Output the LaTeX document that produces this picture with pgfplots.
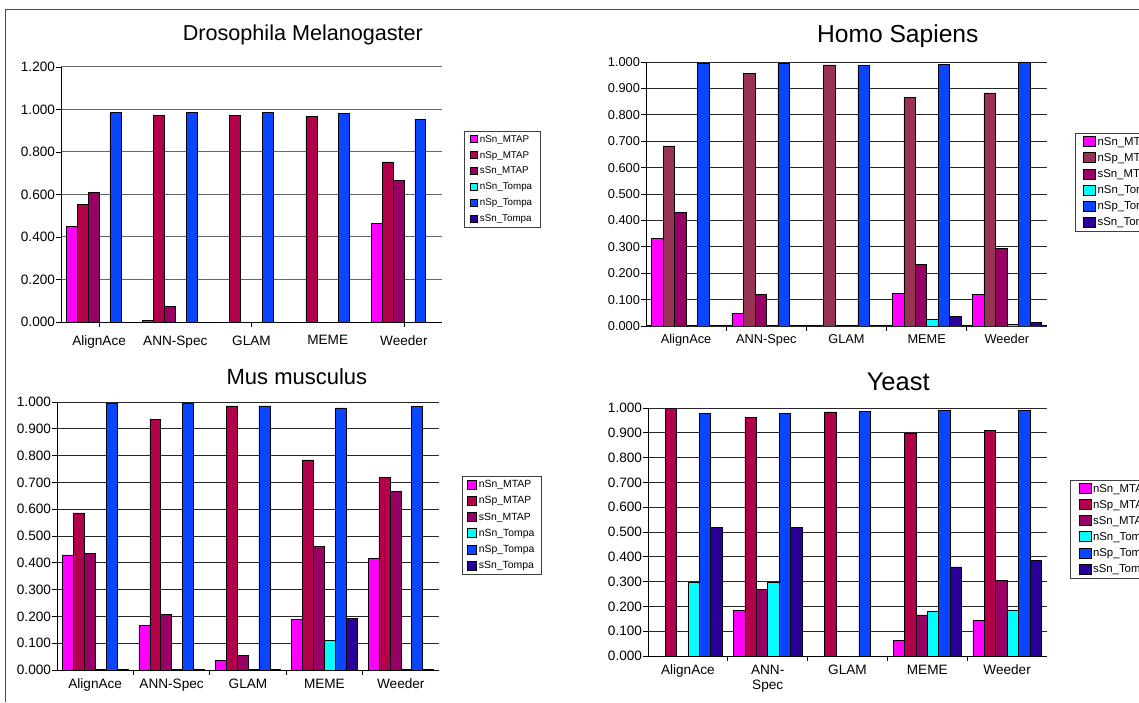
\documentclass[border=0pt]{standalone}
\usepackage{fontspec}
\setmainfont{Liberation Sans}
\usepackage{pgfplots}
\usepackage{pgfplotstable}
\pgfplotsset{compat=1.18}

\definecolor{cnSnM}{HTML}{FF00FF}
\definecolor{cnSpM}{HTML}{B3004B}
\definecolor{cnSpMh}{HTML}{993355}
\definecolor{csSnM}{HTML}{990066}
\definecolor{cnSnT}{HTML}{00FFFF}
\definecolor{cnSpT}{HTML}{0A46FF}
\definecolor{csSnT}{HTML}{2B0099}

% columns: nSn_MTAP nSp_MTAP sSn_MTAP nSn_Tompa nSp_Tompa sSn_Tompa
\pgfplotstableread{
x nSnM nSpM sSnM nSnT nSpT sSnT
0 0.449 0.552 0.609 0 0.985 0
1 0.006 0.974 0.072 0 0.985 0
2 0 0.974 0 0 0.985 0
3 0 0.969 0 0 0.982 0
4 0.463 0.753 0.668 0 0.952 0
}\dro
\pgfplotstableread{
x nSnM nSpM sSnM nSnT nSpT sSnT
0 0.333 0.682 0.431 0.001 0.995 0.001
1 0.047 0.957 0.120 0.001 0.995 0.001
2 0.001 0.989 0.001 0.001 0.986 0.001
3 0.124 0.866 0.234 0.025 0.990 0.036
4 0.119 0.883 0.293 0.007 1.000 0.014
}\homo
\pgfplotstableread{
x nSnM nSpM sSnM nSnT nSpT sSnT
0 0.430 0.586 0.436 0.001 0.995 0.001
1 0.166 0.936 0.207 0.001 0.995 0.001
2 0.035 0.986 0.054 0.001 0.986 0.001
3 0.190 0.784 0.461 0.110 0.978 0.192
4 0.416 0.718 0.667 0.001 0.985 0.001
}\mus
\pgfplotstableread{
x nSnM nSpM sSnM nSnT nSpT sSnT
0 0 1.000 0 0.296 0.977 0.519
1 0.185 0.961 0.269 0.296 0.977 0.519
2 0 0.984 0 0 0.985 0
3 0.064 0.897 0.166 0.180 0.991 0.359
4 0.145 0.909 0.306 0.185 0.989 0.385
}\yeast

\pgfplotsset{
  panel/.style={
    scale only axis, ybar, bar width=0.142857,
    xmin=-0.5, xmax=4.5, ymin=0, enlargelimits=false,
    axis x line*=bottom, axis y line*=left,
    axis line style={black, line width=1pt},
    xtick={0,...,4},
    xticklabels={AlignAce,ANN-Spec,GLAM,MEME,Weeder},
    major x tick style={draw=none},
    major tick length=5pt, minor tick length=5pt,
    tick align=outside,
    tick style={black, line width=0.8pt},
    ymajorgrids, major grid style={black!85, line width=0.9pt},
    /pgf/number format/assume math mode=true,
    yticklabel style={/pgf/number format/fixed, /pgf/number format/fixed zerofill,
      /pgf/number format/precision=3},
    legend cell align=left,
    legend style={anchor=north west, draw=black!75, line width=0.8pt,
      inner xsep=5pt, inner ysep=2pt, row sep=3.5pt,
      font=\fontsize{10.5}{12}\selectfont},
    title style={yshift=-8pt, anchor=center},
  },
  sym/.style n args={3}{
    legend image code/.code={\draw[##1, draw=black, line width=0.5pt] (#3,-#2/2+0.5pt) rectangle (#3+#1,#2/2+0.5pt);},
  },
}

\newcommand\bars[2]{%
  \addplot[fill=cnSnM, draw=black, line width=0.5pt, bar shift=-0.357143] table[x=x, y=nSnM] {#1};
  \addplot[fill=#2, draw=black, line width=0.5pt, bar shift=-0.214286] table[x=x, y=nSpM] {#1};
  \addplot[fill=csSnM, draw=black, line width=0.5pt, bar shift=-0.071429] table[x=x, y=sSnM] {#1};
  \addplot[fill=cnSnT, draw=black, line width=0.5pt, bar shift=0.071429] table[x=x, y=nSnT] {#1};
  \addplot[fill=cnSpT, draw=black, line width=0.5pt, bar shift=0.214286] table[x=x, y=nSpT] {#1};
  \addplot[fill=csSnT, draw=black, line width=0.5pt, bar shift=0.357143] table[x=x, y=sSnT] {#1};
  \legend{nSn\_MTAP, nSp\_MTAP, sSn\_MTAP, nSn\_Tompa, nSp\_Tompa, sSn\_Tompa}
}

\begin{document}
\begin{tikzpicture}[x=1pt, y=1pt]
\useasboundingbox (0,0) rectangle (1139,702);
\clip (0,0) rectangle (1139,702);
\draw[black!70, line width=1pt] (5.5,0) -- (5.5,692.5) -- (1139,692.5);

% Drosophila
\begin{axis}[panel, at={(61pt,380pt)}, anchor=south west,
  width=381pt, height=255pt, ymax=1.2,
  ytick={0,0.2,0.4,0.6,0.8,1,1.2},
  minor xtick={0,2,4},
  major grid style={black!60, line width=1pt},
  ticklabel style={font=\fontsize{13.6}{15}\selectfont},
  xticklabel style={yshift=-5pt}, yticklabel style={xshift=2.5pt},
  title={Drosophila Melanogaster},
  title style={at={(0.635,1.133)}, font=\fontsize{21.6}{24}\selectfont},
  sym={7pt}{7pt}{0pt},
  legend style={at={(1.0577,0.749)}, inner xsep=6pt, font=\fontsize{9.8}{12}\selectfont}]
\bars{\dro}{cnSpM}
\end{axis}

% Homo Sapiens
\begin{axis}[panel, at={(646pt,376pt)}, anchor=south west,
  width=401pt, height=264pt, ymax=1,
  ytick={0,0.1,0.2,0.3,0.4,0.5,0.6,0.7,0.8,0.9,1},
  minor xtick={0.5,1.5,2.5,3.5},
  ticklabel style={font=\fontsize{12.8}{15}\selectfont},
  xticklabel style={yshift=0pt}, yticklabel style={xshift=2.5pt},
  title={Homo Sapiens},
  title style={at={(0.628,1.106)}, font=\fontsize{24.6}{27}\selectfont},
  sym={12pt}{10pt}{2.5pt},
  legend style={at={(1.069,0.731)}, inner xsep=8pt, row sep=2.6pt, font=\fontsize{11.4}{13}\selectfont}]
\bars{\homo}{cnSpMh}
\end{axis}

% Mus musculus
\begin{axis}[panel, at={(57pt,32pt)}, anchor=south west,
  width=382pt, height=268pt, ymax=1,
  ytick={0,0.1,0.2,0.3,0.4,0.5,0.6,0.7,0.8,0.9,1},
  minor xtick={0.5,1.5,2.5,3.5},
  ticklabel style={font=\fontsize{13.6}{15}\selectfont},
  xticklabel style={yshift=-0.5pt}, yticklabel style={xshift=2.5pt},
  title={Mus musculus},
  title style={at={(0.628,1.101)}, font=\fontsize{22}{25}\selectfont},
  sym={9pt}{9pt}{0pt},
  legend style={at={(1.0602,0.724)}, inner xsep=5pt, font=\fontsize{10.4}{12}\selectfont}]
\bars{\mus}{cnSpM}
\end{axis}

% Yeast
\begin{axis}[panel, at={(648pt,46pt)}, anchor=south west,
  width=399pt, height=248pt, ymax=1,
  ytick={0,0.1,0.2,0.3,0.4,0.5,0.6,0.7,0.8,0.9,1},
  minor xtick={0.5,1.5,2.5,3.5},
  xticklabels={AlignAce,ANN-\\Spec,GLAM,MEME,Weeder},
  ticklabel style={font=\fontsize{13.6}{15}\selectfont},
  xticklabel style={yshift=-0.5pt, align=center, anchor=north},
  yticklabel style={xshift=2.5pt},
  title={Yeast},
  title style={at={(0.627,1.113)}, font=\fontsize{25.5}{28}\selectfont},
  sym={12pt}{10pt}{2.5pt},
  legend style={at={(1.058,0.710)}, inner xsep=8pt, row sep=2.6pt, font=\fontsize{11.4}{13}\selectfont}]
\bars{\yeast}{cnSpM}
\end{axis}
\end{tikzpicture}
\end{document}
